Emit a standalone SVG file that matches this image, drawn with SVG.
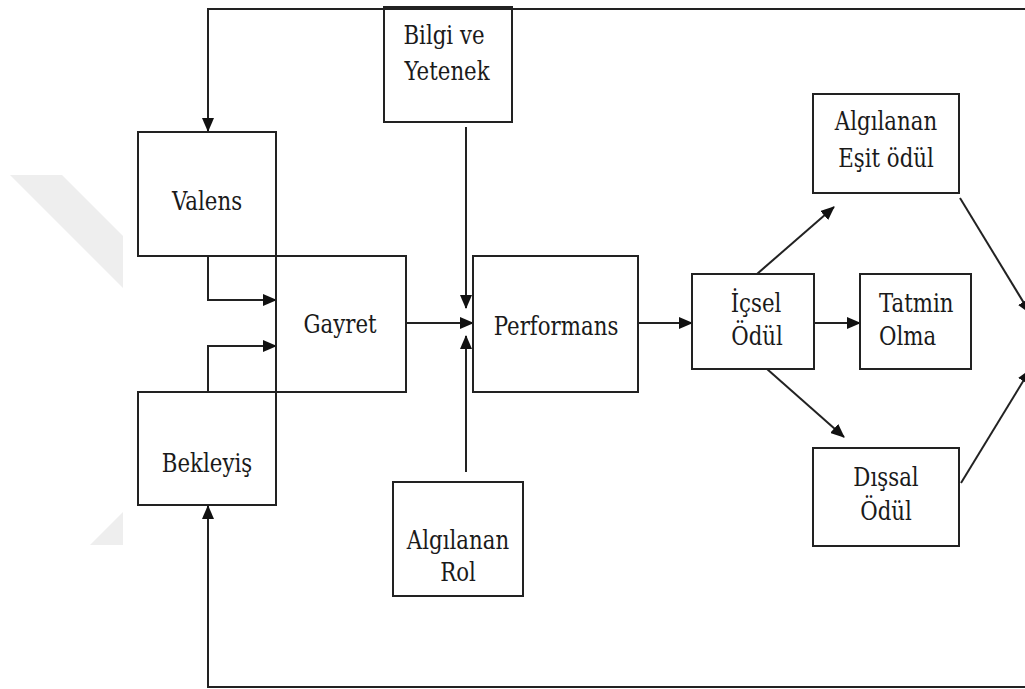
<svg xmlns="http://www.w3.org/2000/svg" width="1025" height="689" viewBox="0 0 1025 689">
  <style>
    .box { fill: none; stroke: #222; stroke-width: 2; }
    .lbl { font-family: 'DejaVu Serif', 'Liberation Serif', serif; font-size: 26px; fill: #1a1a1a; text-anchor: middle; }
    .lbl-start { text-anchor: start; }
    .wire { fill: none; stroke: #222; stroke-width: 2; }
    .mark { fill: #eeeeee; }
  </style>
  <defs>
    <marker id="arrow" markerUnits="userSpaceOnUse" markerWidth="14" markerHeight="12" viewBox="0 0 14 12" refX="13" refY="6" orient="auto">
      <path d="M0,0 L14,6 L0,12 Z" fill="#111"/>
    </marker>
  </defs>

  <rect width="1025" height="689" fill="#ffffff"/>

  <!-- faint background chevron -->
  <g id="chevron">
    <polygon class="mark" points="10,175 62,175 123,236 123,288"/>
    <polygon class="mark" points="90,545 123,512 123,545"/>
  </g>

  <!-- connectors -->
  <g id="connectors">
    <path class="wire" d="M1026,9 H208 V131" marker-end="url(#arrow)"/>
    <path class="wire" d="M1026,687 H208 V506" marker-end="url(#arrow)"/>
    <path class="wire" d="M208,256 V300 H276" marker-end="url(#arrow)"/>
    <path class="wire" d="M208,392 V346 H276" marker-end="url(#arrow)"/>
    <path class="wire" d="M406,323 H473" marker-end="url(#arrow)"/>
    <path class="wire" d="M466,127 V308" marker-end="url(#arrow)"/>
    <path class="wire" d="M466,472 V336" marker-end="url(#arrow)"/>
    <path class="wire" d="M638,323 H692" marker-end="url(#arrow)"/>
    <path class="wire" d="M814,323 H860" marker-end="url(#arrow)"/>
    <path class="wire" d="M757,274 L834,207" marker-end="url(#arrow)"/>
    <path class="wire" d="M767,369 L844,437" marker-end="url(#arrow)"/>
    <path class="wire" d="M960,198 L1030,313" marker-end="url(#arrow)"/>
    <path class="wire" d="M961,483 L1030,370" marker-end="url(#arrow)"/>
  </g>

  <g id="bilgi">
    <rect class="box" x="384" y="7" width="128" height="115"/>
    <text class="lbl" transform="translate(444,44) scale(0.82,1)">Bilgi ve</text>
    <text class="lbl" transform="translate(447,80) scale(0.82,1)">Yetenek</text>
  </g>

  <g id="valens">
    <rect class="box" x="138" y="132" width="138" height="124"/>
    <text class="lbl" transform="translate(207,210) scale(0.82,1)">Valens</text>
  </g>

  <g id="gayret">
    <rect class="box" x="276" y="256" width="130" height="136"/>
    <text class="lbl" transform="translate(340,333) scale(0.82,1)">Gayret</text>
  </g>

  <g id="bekleyis">
    <rect class="box" x="138" y="392" width="138" height="113"/>
    <text class="lbl" transform="translate(207,472) scale(0.82,1)">Bekleyiş</text>
  </g>

  <g id="performans">
    <rect class="box" x="473" y="256" width="165" height="136"/>
    <text class="lbl" transform="translate(556,335) scale(0.82,1)">Performans</text>
  </g>

  <g id="rol">
    <rect class="box" x="393" y="482" width="130" height="114"/>
    <text class="lbl" transform="translate(458,549) scale(0.82,1)">Algılanan</text>
    <text class="lbl" transform="translate(458,581) scale(0.82,1)">Rol</text>
  </g>

  <g id="icsel">
    <rect class="box" x="692" y="274" width="122" height="95"/>
    <text class="lbl" transform="translate(756,312) scale(0.82,1)">İçsel</text>
    <text class="lbl" transform="translate(757,345) scale(0.82,1)">Ödül</text>
  </g>

  <g id="tatmin">
    <rect class="box" x="860" y="274" width="111" height="95"/>
    <text class="lbl lbl-start" transform="translate(879,312) scale(0.82,1)">Tatmin</text>
    <text class="lbl lbl-start" transform="translate(879,345) scale(0.82,1)">Olma</text>
  </g>

  <g id="esit">
    <rect class="box" x="813" y="94" width="146" height="99"/>
    <text class="lbl" transform="translate(886,130) scale(0.82,1)">Algılanan</text>
    <text class="lbl" transform="translate(886,167) scale(0.82,1)">Eşit ödül</text>
  </g>

  <g id="dissal">
    <rect class="box" x="813" y="448" width="146" height="98"/>
    <text class="lbl" transform="translate(886,486) scale(0.82,1)">Dışsal</text>
    <text class="lbl" transform="translate(886,520) scale(0.82,1)">Ödül</text>
  </g>
</svg>
